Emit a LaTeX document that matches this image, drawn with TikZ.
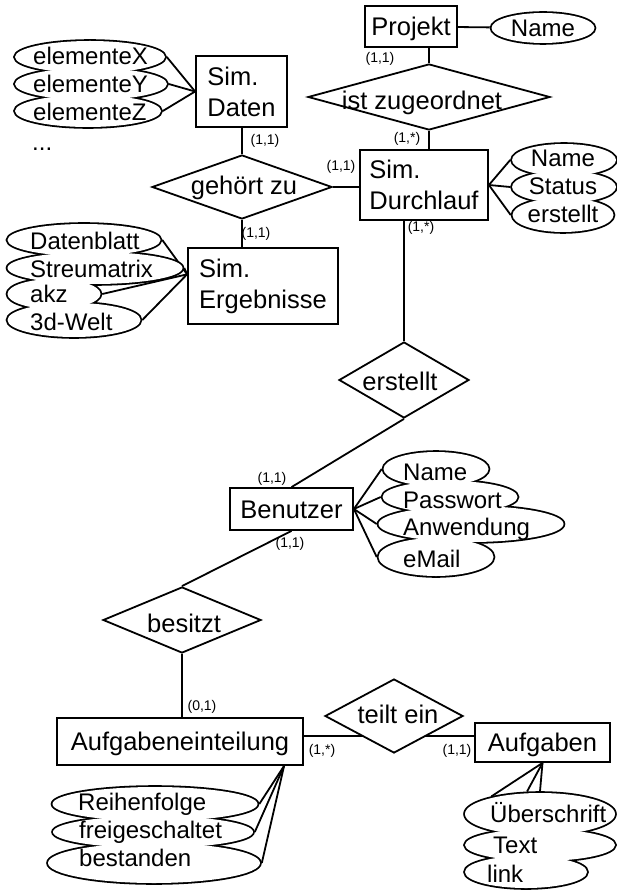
\documentclass[tikz,border=0pt]{standalone}
\usepackage{fontspec}
\setmainfont{Liberation Sans}
\usetikzlibrary{shapes.geometric,calc}
\pgfdeclarelayer{bg}
\pgfsetlayers{bg,main}
\begin{document}
\begin{tikzpicture}[x=1pt,y=-1pt,
  every node/.style={font=\fontsize{25.5}{31}\selectfont},
  ent/.style={draw, fill=white, line width=1.8pt, inner sep=0pt, align=left},
  ent1/.style={ent, text height=18.3pt, text depth=0pt},
  rel/.style={draw, fill=white, diamond, line width=1.8pt, inner sep=0pt},
  reltext/.style={anchor=base, inner sep=0pt},
  attrout/.style={ellipse, draw, line width=3.6pt, inner sep=0pt},
  attrfill/.style={ellipse, fill=white, inner sep=0pt},
  attrtext/.style={anchor=base west, inner sep=0pt, font=\fontsize{24}{28}\selectfont},
  attrctext/.style={anchor=base, inner sep=0pt, font=\fontsize{24}{28}\selectfont},
  card/.style={inner sep=0pt, font=\fontsize{14}{16}\selectfont},
  conn/.style={line width=1.8pt},
]
\useasboundingbox (0,0) rectangle (616,890);

% entities
\node[ent1, minimum width=92pt, minimum height=41pt] (Projekt) at (411,26.5) {Projekt};
\node[ent, minimum width=91pt, minimum height=71pt] (SimDaten) at (241.5,91.5) {Sim.\\Daten};
\node[ent, minimum width=128pt, minimum height=70pt] (Durchlauf) at (424,185) {Sim.\\Durchlauf};
\node[ent, minimum width=150pt, minimum height=76pt] (Ergebnisse) at (263,286) {Sim.\\Ergebnisse};
\node[ent1, minimum width=123pt, minimum height=42pt] (Benutzer) at (291.5,509) {Benutzer};
\node[ent1, minimum width=246pt, minimum height=47pt] (Aufg) at (180,741.5) {Aufgabeneinteilung};
\node[ent1, minimum width=135pt, minimum height=39pt] (Aufgaben) at (542.5,742.5) {Aufgaben};

% relationships
\node[rel, minimum width=242pt, minimum height=66pt] (istzu) at (429,97) {};
\node[reltext] (istzu-t) at (422,110) {ist zugeordnet};
\node[rel, minimum width=180pt, minimum height=64pt] (gehoert) at (242,187) {};
\node[reltext] (gehoert-t) at (244,195) {gehört zu};
\node[rel, minimum width=130pt, minimum height=76pt] (erstellt) at (404,380) {};
\node[reltext] (erstellt-t) at (400,390) {erstellt};
\node[rel, minimum width=158pt, minimum height=66pt] (besitzt) at (182,620) {};
\node[reltext] (besitzt-t) at (184,632) {besitzt};
\node[rel, minimum width=138pt, minimum height=74pt] (teilt) at (394,716) {};
\node[reltext] (teilt-t) at (398,723) {teilt ein};

% attribute ellipses: outlines, then fills (gives outline of the union)
\def\attrlist{pn/543/28/103/30, dx/90/57/150/32, dy/91/84/152/32, dz/88/111/146/32,
  db/84/240/153/32, sm/95/268/175/32, akz/54/294/93/30, dw/74/320/133/34,
  dn/564/160/104/32, ds/564/187/104/32, de/563/215/101/34,
  bn/436/469/105/34, bp/450/497/135/32, ba/471/524/185/36, be/436/557/115/38,
  ar/155/804/205/34, af/153/832/200/32, ab/154/863/212/40,
  au/540/814/150/42, at/540/845/150/32, al/526/872/122/32}
\foreach \n/\x/\y/\w/\h in \attrlist
  \node[attrout, minimum width=\w pt, minimum height=\h pt] (\n-o) at (\x,\y) {};
\foreach \n/\x/\y/\w/\h in \attrlist
  \node[attrfill, minimum width=\w pt, minimum height=\h pt] (\n-f) at (\x,\y) {};

% attribute texts
\node[attrctext] (pn-t) at (543,37) {Name};
\node[attrtext] (dx-t) at (33,65) {elementeX};
\node[attrtext] (dy-t) at (33,93) {elementeY};
\node[attrtext] (dz-t) at (33,121) {elementeZ};
\node[attrtext] (dots) at (32,151) {...};
\node[attrtext] (db-t) at (30,250) {Datenblatt};
\node[attrtext] (sm-t) at (30,277) {Streumatrix};
\node[attrtext] (akz-t) at (30,302) {akz};
\node[attrtext] (dw-t) at (30,330) {3d-Welt};
\node[attrctext] (dn-t) at (563,167) {Name};
\node[attrctext] (ds-t) at (563,195) {Status};
\node[attrctext] (de-t) at (563,223) {erstellt};
\node[attrtext] (bn-t) at (403,480) {Name};
\node[attrtext] (bp-t) at (403,508) {Passwort};
\node[attrtext] (ba-t) at (403,535) {Anwendung};
\node[attrtext] (be-t) at (403,567) {eMail};
\node[attrtext] (ar-t) at (78,810) {Reihenfolge};
\node[attrtext] (af-t) at (79,838) {freigeschaltet};
\node[attrtext] (ab-t) at (79,866) {bestanden};
\node[attrtext] (au-t) at (490,822) {Überschrift};
\node[attrtext] (at-t) at (493,853) {Text};
\node[attrtext] (al-t) at (487,882) {link};

% cardinalities
\node[card] (c1) at (380,59) {(1,1)};
\node[card] (c2) at (407,139) {(1,*)};
\node[card] (c3) at (265,141) {(1,1)};
\node[card] (c4) at (341,167) {(1,1)};
\node[card] (c5) at (421,228) {(1,*)};
\node[card] (c6) at (256,234) {(1,1)};
\node[card] (c7) at (272,479) {(1,1)};
\node[card] (c8) at (290,544) {(1,1)};
\node[card] (c9) at (202,707) {(0,1)};
\node[card] (c10) at (322,751) {(1,*)};
\node[card] (c11) at (457,751) {(1,1)};

\coordinate (tl) at (394,736);

\begin{pgfonlayer}{bg}
\draw[conn] (Projekt) -- (pn-o);
\draw[conn] (istzu.north) -- (istzu.north |- Projekt.south);
\draw[conn] (istzu.south) -- (istzu.south |- Durchlauf.north);
\draw[conn] (gehoert.north) -- (gehoert.north |- SimDaten.south);
\draw[conn] (gehoert.south) -- (gehoert.south |- Ergebnisse.north);
\draw[conn] (gehoert.east) -- (gehoert.east -| Durchlauf.west);
\draw[conn] (erstellt.north) -- (erstellt.north |- Durchlauf.south);
\draw[conn] (erstellt.south) -- (Benutzer.north);
\draw[conn] (Benutzer.south) -- (besitzt.north);
\draw[conn] (besitzt.south) -- (besitzt.south |- Aufg.north);
\draw[conn] (Aufg.east |- tl) -- (Aufgaben.west |- tl);

\draw[conn] (SimDaten.west) -- (dx-o.east);
\draw[conn] (SimDaten.west) -- (dy-o.east);
\draw[conn] (SimDaten.west) -- (dz-o.east);

\coordinate (ergconv) at ($(Ergebnisse.north west)!0.35!(Ergebnisse.south west)$);
\foreach \n in {db,sm,akz,dw} \draw[conn] (ergconv) -- (\n-o.east);

\foreach \n in {dn,ds,de} \draw[conn] (Durchlauf.east) -- (\n-o.west);
\foreach \n in {bn,bp,ba,be} \draw[conn] (Benutzer.east) -- (\n-o.west);

\coordinate (aufconv) at ($(Aufg.south west)!0.92!(Aufg.south east)$);
\foreach \n in {ar,af,ab} \draw[conn] (aufconv) -- (\n-o.east);

\draw[conn] (Aufgaben.south) -- (au-o.160);
\draw[conn] (Aufgaben.south) -- (au-o.120);
\draw[conn] (Aufgaben.south) -- (au-o.north);
\end{pgfonlayer}
\end{tikzpicture}
\end{document}
